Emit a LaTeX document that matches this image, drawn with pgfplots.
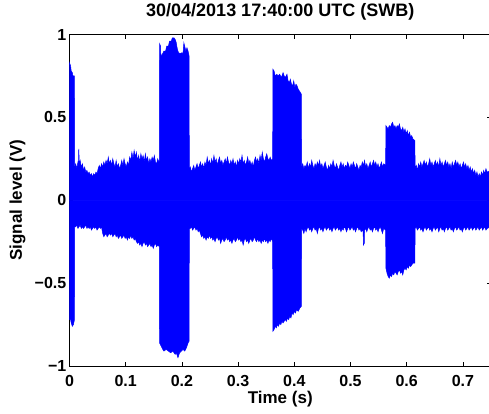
\documentclass[border=0pt]{standalone}
\usepackage{pgfplots}
\pgfplotsset{compat=1.18}
\usepackage{fontspec}
\setmainfont{Liberation Sans}

% upper and lower envelope of the recorded signal
\pgfplotstableread{
t v
0 0.83
0.002 0.81
0.003 0.78
0.005 0.77
0.006 0.75
0.0088 0.75
0.0092 0.20
0.011 0.22
0.013 0.19
0.015 0.23
0.016 0.21
0.0165 0.31
0.0175 0.22
0.019 0.24
0.021 0.20
0.023 0.22
0.025 0.18
0.027 0.20
0.029 0.17
0.031 0.18
0.033 0.16
0.035 0.17
0.037 0.15
0.039 0.16
0.041 0.14
0.043 0.16
0.045 0.15
0.047 0.17
0.049 0.16
0.051 0.19
0.053 0.21
0.055 0.19
0.057 0.22
0.059 0.20
0.061 0.23
0.063 0.21
0.065 0.24
0.067 0.22
0.069 0.26
0.071 0.22
0.073 0.24
0.075 0.21
0.077 0.25
0.079 0.22
0.081 0.20
0.083 0.24
0.085 0.20
0.087 0.22
0.089 0.19
0.091 0.21
0.093 0.24
0.095 0.21
0.097 0.25
0.099 0.22
0.101 0.20
0.103 0.23
0.105 0.21
0.107 0.26
0.109 0.24
0.111 0.29
0.113 0.25
0.115 0.30
0.117 0.26
0.119 0.29
0.121 0.24
0.123 0.27
0.125 0.23
0.127 0.28
0.129 0.25
0.131 0.27
0.133 0.23
0.135 0.28
0.137 0.24
0.139 0.26
0.141 0.22
0.143 0.25
0.145 0.23
0.147 0.26
0.149 0.24
0.151 0.27
0.153 0.23
0.155 0.22
0.157 0.25
0.159 0.23
0.1598 0.24
0.1602 0.945
0.162 0.93
0.1625 0.87
0.165 0.88
0.168 0.90
0.171 0.90
0.173 0.93
0.176 0.93
0.178 0.96
0.181 0.96
0.183 0.98
0.186 0.98
0.188 0.97
0.190 0.95
0.192 0.91
0.194 0.89
0.197 0.885
0.200 0.89
0.202 0.885
0.2035 0.95
0.205 0.93
0.207 0.90
0.209 0.92
0.211 0.90
0.2128 0.87
0.2132 0.18
0.215 0.20
0.217 0.17
0.219 0.19
0.221 0.21
0.223 0.18
0.225 0.20
0.227 0.22
0.229 0.19
0.231 0.21
0.233 0.23
0.235 0.20
0.237 0.22
0.239 0.19
0.241 0.23
0.243 0.21
0.245 0.26
0.247 0.22
0.249 0.24
0.251 0.21
0.253 0.25
0.255 0.22
0.257 0.27
0.259 0.23
0.261 0.25
0.263 0.21
0.265 0.24
0.267 0.26
0.269 0.22
0.271 0.24
0.273 0.21
0.275 0.23
0.277 0.25
0.279 0.22
0.281 0.26
0.283 0.23
0.285 0.21
0.287 0.24
0.289 0.22
0.291 0.25
0.293 0.21
0.295 0.23
0.297 0.20
0.299 0.24
0.301 0.22
0.303 0.25
0.305 0.23
0.307 0.27
0.309 0.22
0.311 0.24
0.313 0.21
0.315 0.23
0.317 0.26
0.319 0.22
0.321 0.24
0.323 0.21
0.325 0.23
0.327 0.20
0.329 0.24
0.331 0.26
0.333 0.23
0.335 0.25
0.337 0.22
0.339 0.27
0.341 0.24
0.343 0.29
0.345 0.25
0.347 0.23
0.349 0.26
0.351 0.28
0.353 0.25
0.355 0.24
0.357 0.26
0.359 0.24
0.3615 0.25
0.3620 0.79
0.364 0.78
0.366 0.75
0.369 0.76
0.371 0.75
0.374 0.76
0.377 0.74
0.380 0.77
0.382 0.75
0.384 0.74
0.387 0.76
0.389 0.72
0.391 0.71
0.393 0.73
0.395 0.70
0.397 0.69
0.399 0.72
0.401 0.68
0.403 0.70
0.405 0.69
0.407 0.67
0.409 0.66
0.4125 0.64
0.4130 0.20
0.415 0.22
0.417 0.19
0.419 0.21
0.421 0.20
0.423 0.23
0.425 0.19
0.427 0.22
0.429 0.20
0.431 0.24
0.433 0.21
0.435 0.19
0.437 0.22
0.439 0.20
0.441 0.23
0.443 0.21
0.445 0.24
0.447 0.20
0.449 0.22
0.451 0.19
0.453 0.21
0.455 0.23
0.457 0.20
0.459 0.18
0.461 0.21
0.463 0.19
0.465 0.22
0.467 0.20
0.469 0.24
0.471 0.21
0.473 0.19
0.475 0.22
0.477 0.20
0.479 0.18
0.481 0.21
0.483 0.23
0.485 0.20
0.487 0.22
0.489 0.19
0.491 0.21
0.493 0.20
0.495 0.23
0.497 0.21
0.499 0.19
0.501 0.22
0.503 0.20
0.505 0.23
0.507 0.21
0.509 0.19
0.511 0.22
0.513 0.20
0.515 0.18
0.517 0.21
0.519 0.20
0.521 0.23
0.523 0.21
0.525 0.24
0.527 0.20
0.529 0.22
0.531 0.19
0.533 0.21
0.535 0.23
0.537 0.20
0.539 0.22
0.541 0.24
0.543 0.21
0.545 0.23
0.547 0.20
0.549 0.22
0.551 0.19
0.553 0.21
0.555 0.23
0.557 0.20
0.559 0.22
0.5625 0.21
0.5630 0.45
0.565 0.44
0.567 0.43
0.569 0.45
0.571 0.44
0.573 0.46
0.575 0.47
0.577 0.44
0.579 0.45
0.581 0.43
0.583 0.45
0.585 0.44
0.587 0.46
0.589 0.43
0.591 0.42
0.593 0.44
0.595 0.41
0.597 0.43
0.599 0.40
0.601 0.42
0.603 0.39
0.605 0.41
0.607 0.38
0.609 0.39
0.611 0.37
0.6145 0.36
0.6150 0.19
0.617 0.21
0.619 0.18
0.621 0.22
0.623 0.20
0.625 0.23
0.627 0.20
0.629 0.22
0.631 0.24
0.633 0.21
0.635 0.23
0.637 0.20
0.639 0.22
0.641 0.25
0.643 0.21
0.645 0.23
0.647 0.20
0.649 0.22
0.651 0.24
0.653 0.21
0.655 0.23
0.657 0.20
0.659 0.25
0.661 0.21
0.663 0.23
0.665 0.20
0.667 0.22
0.669 0.24
0.671 0.21
0.673 0.23
0.675 0.20
0.677 0.22
0.679 0.19
0.681 0.23
0.683 0.20
0.685 0.22
0.687 0.24
0.689 0.21
0.691 0.23
0.693 0.20
0.695 0.22
0.697 0.19
0.699 0.21
0.701 0.23
0.703 0.20
0.705 0.22
0.707 0.19
0.709 0.21
0.711 0.18
0.713 0.20
0.715 0.17
0.717 0.19
0.719 0.16
0.721 0.18
0.723 0.15
0.725 0.17
0.727 0.14
0.729 0.16
0.731 0.14
0.733 0.17
0.735 0.15
0.737 0.18
0.739 0.16
0.741 0.19
0.743 0.17
0.750 0.18
}\uppertab

\pgfplotstableread{
t v
0 -0.72
0.002 -0.72
0.003 -0.74
0.005 -0.76
0.007 -0.75
0.0088 -0.72
0.0092 -0.16
0.011 -0.16
0.013 -0.15
0.015 -0.17
0.017 -0.16
0.019 -0.15
0.021 -0.17
0.023 -0.16
0.025 -0.17
0.027 -0.16
0.029 -0.15
0.031 -0.17
0.033 -0.16
0.035 -0.17
0.037 -0.16
0.039 -0.18
0.041 -0.17
0.043 -0.16
0.045 -0.17
0.047 -0.16
0.049 -0.18
0.051 -0.17
0.053 -0.16
0.055 -0.17
0.057 -0.16
0.059 -0.20
0.061 -0.22
0.063 -0.21
0.065 -0.20
0.067 -0.22
0.069 -0.21
0.071 -0.20
0.073 -0.21
0.075 -0.20
0.077 -0.22
0.079 -0.21
0.081 -0.20
0.083 -0.22
0.085 -0.21
0.087 -0.23
0.089 -0.22
0.091 -0.21
0.093 -0.23
0.095 -0.22
0.097 -0.21
0.099 -0.23
0.101 -0.22
0.103 -0.24
0.105 -0.22
0.107 -0.23
0.109 -0.21
0.111 -0.23
0.113 -0.22
0.115 -0.24
0.117 -0.23
0.119 -0.25
0.121 -0.26
0.123 -0.25
0.125 -0.27
0.127 -0.26
0.129 -0.28
0.131 -0.26
0.133 -0.25
0.135 -0.27
0.137 -0.26
0.139 -0.28
0.141 -0.27
0.143 -0.26
0.145 -0.28
0.147 -0.27
0.149 -0.29
0.151 -0.27
0.153 -0.26
0.155 -0.28
0.157 -0.27
0.1598 -0.28
0.1602 -0.86
0.163 -0.88
0.166 -0.90
0.168 -0.91
0.172 -0.90
0.176 -0.91
0.180 -0.92
0.184 -0.91
0.188 -0.93
0.190 -0.92
0.193 -0.95
0.196 -0.92
0.199 -0.91
0.202 -0.90
0.205 -0.91
0.208 -0.89
0.211 -0.86
0.2128 -0.85
0.2132 -0.17
0.215 -0.17
0.217 -0.16
0.219 -0.18
0.221 -0.17
0.223 -0.16
0.225 -0.18
0.227 -0.17
0.229 -0.19
0.231 -0.18
0.233 -0.20
0.235 -0.22
0.237 -0.21
0.239 -0.23
0.241 -0.22
0.243 -0.24
0.245 -0.22
0.247 -0.23
0.249 -0.21
0.251 -0.23
0.253 -0.22
0.255 -0.24
0.257 -0.23
0.259 -0.25
0.261 -0.23
0.263 -0.22
0.265 -0.24
0.267 -0.23
0.269 -0.26
0.271 -0.24
0.273 -0.23
0.275 -0.25
0.277 -0.24
0.279 -0.22
0.281 -0.24
0.283 -0.23
0.285 -0.25
0.287 -0.24
0.289 -0.26
0.291 -0.24
0.293 -0.23
0.295 -0.25
0.297 -0.24
0.299 -0.22
0.301 -0.24
0.303 -0.23
0.305 -0.25
0.307 -0.24
0.309 -0.27
0.311 -0.24
0.313 -0.23
0.315 -0.25
0.317 -0.24
0.319 -0.26
0.321 -0.24
0.323 -0.23
0.325 -0.25
0.327 -0.24
0.329 -0.22
0.331 -0.24
0.333 -0.25
0.335 -0.23
0.337 -0.25
0.339 -0.24
0.341 -0.26
0.343 -0.24
0.345 -0.25
0.347 -0.23
0.349 -0.25
0.351 -0.24
0.353 -0.26
0.355 -0.24
0.357 -0.25
0.359 -0.23
0.3615 -0.25
0.3620 -0.79
0.364 -0.78
0.366 -0.76
0.368 -0.77
0.370 -0.75
0.372 -0.76
0.374 -0.74
0.376 -0.75
0.378 -0.73
0.380 -0.74
0.382 -0.73
0.384 -0.72
0.386 -0.73
0.388 -0.71
0.390 -0.72
0.392 -0.70
0.394 -0.71
0.396 -0.68
0.398 -0.69
0.400 -0.67
0.402 -0.68
0.404 -0.66
0.407 -0.67
0.410 -0.65
0.4125 -0.64
0.4130 -0.17
0.415 -0.18
0.417 -0.20
0.419 -0.17
0.421 -0.19
0.423 -0.17
0.425 -0.16
0.427 -0.18
0.429 -0.17
0.431 -0.19
0.433 -0.17
0.435 -0.16
0.437 -0.18
0.439 -0.17
0.441 -0.20
0.443 -0.17
0.445 -0.16
0.447 -0.18
0.449 -0.17
0.451 -0.19
0.453 -0.17
0.455 -0.16
0.457 -0.18
0.459 -0.17
0.461 -0.16
0.463 -0.18
0.465 -0.17
0.467 -0.19
0.469 -0.17
0.471 -0.16
0.473 -0.18
0.475 -0.17
0.477 -0.16
0.479 -0.18
0.481 -0.17
0.483 -0.19
0.485 -0.17
0.487 -0.18
0.489 -0.16
0.491 -0.17
0.493 -0.19
0.495 -0.17
0.497 -0.16
0.499 -0.18
0.501 -0.17
0.503 -0.16
0.505 -0.18
0.507 -0.17
0.509 -0.19
0.511 -0.17
0.513 -0.16
0.515 -0.18
0.517 -0.17
0.519 -0.19
0.521 -0.18
0.5225 -0.19
0.523 -0.27
0.5245 -0.26
0.525 -0.18
0.527 -0.17
0.529 -0.19
0.531 -0.17
0.533 -0.16
0.535 -0.18
0.537 -0.17
0.539 -0.19
0.541 -0.17
0.543 -0.16
0.545 -0.18
0.547 -0.17
0.549 -0.19
0.551 -0.17
0.553 -0.16
0.555 -0.18
0.557 -0.20
0.559 -0.17
0.5625 -0.18
0.5630 -0.41
0.565 -0.44
0.567 -0.46
0.569 -0.47
0.571 -0.45
0.573 -0.46
0.575 -0.44
0.577 -0.45
0.579 -0.43
0.581 -0.44
0.583 -0.45
0.585 -0.43
0.587 -0.42
0.589 -0.44
0.591 -0.43
0.593 -0.45
0.595 -0.42
0.597 -0.41
0.599 -0.42
0.601 -0.40
0.603 -0.41
0.605 -0.39
0.607 -0.40
0.609 -0.39
0.611 -0.38
0.6145 -0.38
0.6150 -0.17
0.617 -0.16
0.619 -0.18
0.621 -0.17
0.623 -0.16
0.625 -0.18
0.627 -0.17
0.629 -0.19
0.631 -0.17
0.633 -0.16
0.635 -0.18
0.637 -0.17
0.639 -0.16
0.641 -0.18
0.643 -0.17
0.645 -0.19
0.647 -0.17
0.649 -0.16
0.651 -0.18
0.653 -0.17
0.655 -0.16
0.657 -0.19
0.659 -0.17
0.661 -0.16
0.663 -0.18
0.665 -0.17
0.667 -0.19
0.669 -0.17
0.671 -0.16
0.673 -0.18
0.675 -0.17
0.677 -0.16
0.679 -0.18
0.681 -0.17
0.683 -0.19
0.685 -0.17
0.687 -0.16
0.689 -0.18
0.691 -0.17
0.693 -0.16
0.695 -0.18
0.697 -0.17
0.699 -0.19
0.701 -0.17
0.703 -0.16
0.705 -0.18
0.707 -0.17
0.709 -0.16
0.711 -0.18
0.713 -0.17
0.715 -0.16
0.717 -0.18
0.719 -0.17
0.721 -0.16
0.723 -0.18
0.725 -0.17
0.727 -0.16
0.729 -0.18
0.731 -0.17
0.733 -0.16
0.735 -0.18
0.737 -0.17
0.739 -0.16
0.741 -0.18
0.743 -0.17
0.750 -0.16
}\lowertab

\begin{document}
\begin{tikzpicture}
\path[use as bounding box] (-69.5pt,-47pt) rectangle (419.5pt,366pt);
\begin{axis}[
    scale only axis,
    width=421.5pt, height=331.5pt,
    xmin=0, xmax=0.75,
    ymin=-1, ymax=1,
    xtick={0,0.1,0.2,0.3,0.4,0.5,0.6,0.7},
    xticklabels={0,0.1,0.2,0.3,0.4,0.5,0.6,0.7},
    ytick={-1,-0.5,0,0.5,1},
    yticklabels={−1,−0.5,0,0.5,1},
    tick align=inside,
    major tick length=4pt,
    axis line style={black, line width=0.8pt},
    major tick style={black, line width=0.6pt},
    tick label style={font=\fontsize{16}{16}\selectfont\bfseries},
    xticklabel style={anchor=base, yshift=-20pt},
    yticklabel style={inner xsep=3pt},
    label style={font=\fontsize{17}{17}\selectfont\bfseries},
    xlabel={Time (s)},
    ylabel={Signal level (V)},
    xlabel style={at={(axis description cs:0.5,0)}, anchor=base, yshift=-37pt},
    ylabel style={at={(axis description cs:0,0.5)}, anchor=center, yshift=52pt},
    title={30/04/2013 17:40:00 UTC (SWB)},
    title style={font=\fontsize{18}{18}\selectfont\bfseries, at={(axis description cs:0.5,1)}, anchor=base, yshift=12.5pt},
]
\addplot[draw=blue, fill=blue, line width=0.5pt] table[x=t, y=v] {\uppertab} \closedcycle;
\addplot[draw=blue, fill=blue, line width=0.5pt] table[x=t, y=v] {\lowertab} \closedcycle;
\end{axis}
\end{tikzpicture}
\end{document}
